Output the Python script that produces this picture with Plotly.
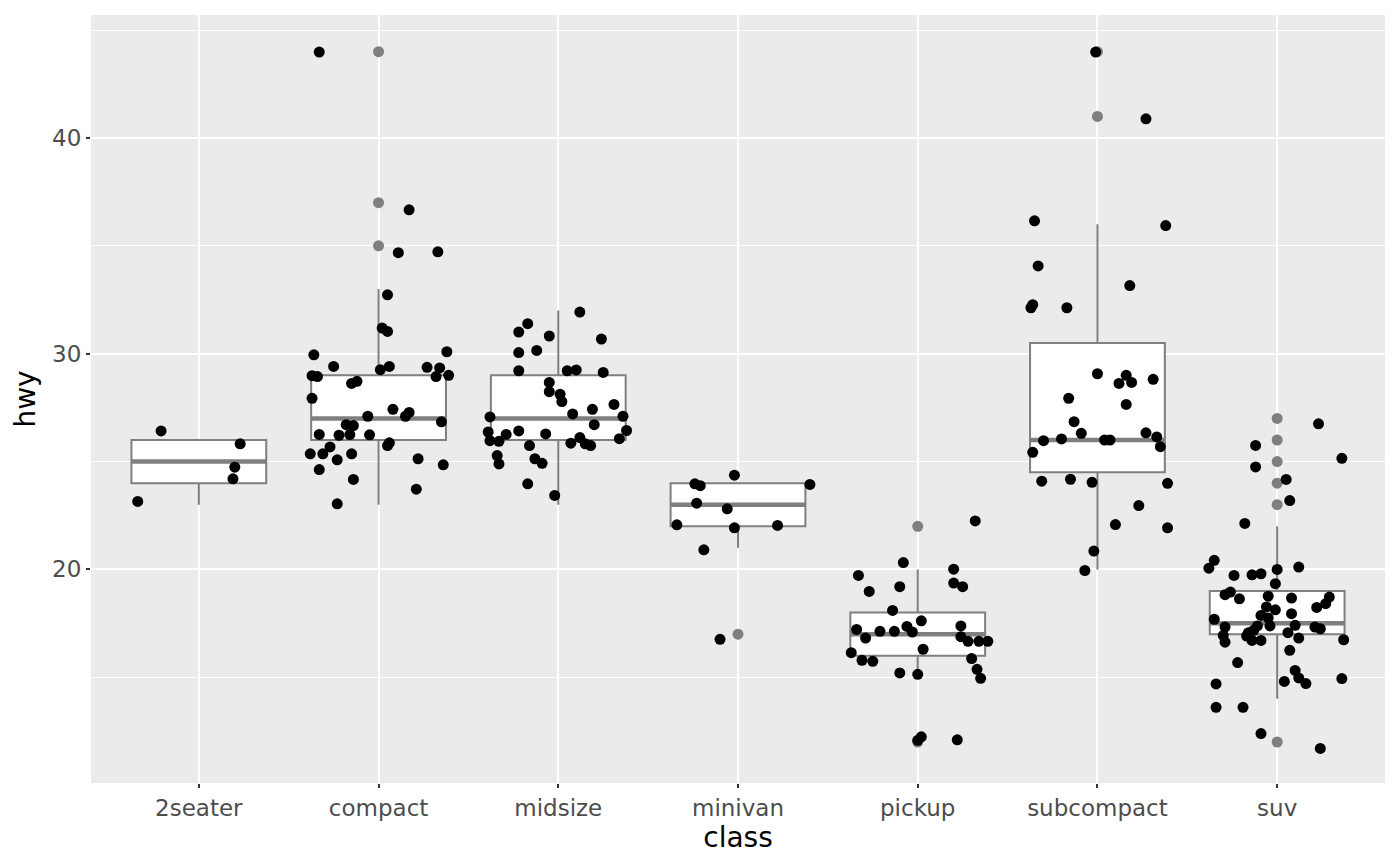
#!/usr/bin/env python3

"""
Highway mileage by vehicle class: boxplot with jittered points on top,
styled after ggplot2's grey theme.
"""

import numpy as np
import plotly.graph_objects as go

classes = ["2seater", "compact", "midsize", "minivan", "pickup", "subcompact", "suv"]

# box statistics per class
box_q1 = [24, 26, 26, 22, 16, 24.5, 17]
box_median = [25, 27, 27, 23, 17, 26, 17.5]
box_q3 = [26, 29, 29, 24, 18, 30.5, 19]
box_low = [23, 23, 23, 21, 15, 20, 14]
box_high = [26, 33, 32, 24, 20, 36, 22]

# boxplot outliers
outlier_class = ["compact", "compact", "compact", "minivan", "pickup", "pickup",
                 "subcompact", "subcompact", "suv", "suv", "suv", "suv", "suv", "suv"]
outlier_hwy = [44, 37, 35, 17, 12, 22, 44, 41, 27, 26, 25, 24, 23, 12]

# jittered points: horizontal offset from the class centre, and jittered hwy
twoseater_dx = [-0.21, 0.23, 0.20, 0.19, -0.34]
twoseater_hwy = [26.42, 25.82, 24.74, 24.20, 23.15]

compact_dx = [-0.33, 0.17, 0.11, 0.33, 0.05, 0.02, 0.05, -0.36, 0.38, -0.25,
              0.01, 0.06, 0.27, 0.34, 0.32, 0.39, -0.37, -0.34, -0.15, -0.12,
              -0.37, 0.08, 0.15, 0.17, -0.06, 0.35, -0.18, -0.14, -0.33, -0.22,
              -0.16, -0.05, 0.05, 0.06, -0.27, -0.31, -0.38, -0.15, -0.23, 0.22,
              0.36, -0.33, -0.14, 0.21, -0.23]
compact_hwy = [43.98, 36.67, 34.68, 34.72, 32.73, 31.19, 31.03, 29.95, 30.09, 29.41,
               29.26, 29.41, 29.37, 29.34, 28.94, 29.00, 28.98, 28.94, 28.62, 28.72,
               27.93, 27.42, 27.10, 27.28, 27.10, 26.84, 26.71, 26.67, 26.26, 26.22,
               26.25, 26.24, 25.74, 25.87, 25.68, 25.36, 25.36, 25.36, 25.08, 25.13,
               24.85, 24.63, 24.17, 23.72, 23.04]

midsize_dx = [0.12, -0.17, -0.22, -0.05, 0.24, -0.22, -0.12, -0.22, 0.05, 0.10,
              0.25, -0.05, -0.05, 0.01, 0.02, 0.31, 0.19, 0.08, -0.38, 0.36,
              0.20, 0.38, -0.39, -0.29, -0.22, -0.07, -0.38, -0.33, 0.12, 0.07,
              0.15, 0.18, 0.34, -0.16, -0.34, -0.33, -0.13, -0.09, -0.17, -0.02]
midsize_hwy = [31.93, 31.39, 31.00, 30.82, 30.68, 30.05, 30.15, 29.21, 29.21, 29.25,
               29.13, 28.67, 28.24, 28.12, 27.78, 27.65, 27.42, 27.21, 27.07, 27.10,
               26.71, 26.44, 26.37, 26.26, 26.42, 26.28, 25.97, 25.94, 26.11, 25.85,
               25.82, 25.74, 26.06, 25.74, 25.28, 24.89, 25.13, 24.92, 23.97, 23.43]

minivan_dx = [-0.02, -0.24, -0.21, 0.40, -0.23, -0.06, -0.34, -0.02, 0.22, -0.19, -0.10]
minivan_hwy = [24.37, 23.97, 23.88, 23.94, 23.07, 22.81, 22.07, 21.93, 22.04, 20.91, 16.76]

pickup_dx = [0.32, -0.08, 0.20, -0.33, -0.10, 0.20, 0.25, -0.27, -0.14, 0.02,
             -0.34, -0.21, -0.13, -0.06, -0.03, 0.24, -0.29, 0.24, 0.28, 0.34,
             0.39, 0.03, -0.37, -0.31, -0.25, 0.30, 0.33, 0.35, -0.10, 0.00,
             0.00, 0.02, 0.22]
pickup_hwy = [22.25, 20.32, 20.01, 19.72, 19.20, 19.37, 19.20, 18.98, 18.10, 17.62,
              17.22, 17.13, 17.13, 17.36, 17.10, 17.38, 16.82, 16.88, 16.67, 16.67,
              16.67, 16.30, 16.14, 15.79, 15.74, 15.87, 15.37, 14.95, 15.20, 15.14,
              12.08, 12.24, 12.10]

subcompact_dx = [-0.01, 0.27, -0.35, 0.38, -0.33, 0.18, -0.36, -0.37, -0.17, 0.00,
                 0.16, 0.12, 0.19, 0.31, -0.16, 0.16, -0.13, -0.09, -0.30, -0.20,
                 0.04, 0.07, 0.27, 0.33, 0.35, -0.36, -0.31, -0.15, -0.03, 0.39,
                 0.23, 0.10, 0.39, -0.02, -0.07]
subcompact_hwy = [43.98, 40.89, 36.16, 35.94, 34.07, 33.16, 32.27, 32.13, 32.13, 29.07,
                  29.00, 28.62, 28.67, 28.81, 27.93, 27.65, 26.85, 26.31, 25.97, 26.05,
                  26.00, 26.00, 26.33, 26.14, 25.69, 25.43, 24.09, 24.18, 24.04, 23.99,
                  22.96, 22.08, 21.93, 20.85, 19.95]

suv_dx = [0.23, -0.12, 0.36, -0.12, 0.05, 0.07, -0.18, -0.35, -0.38, -0.24,
          -0.14, -0.09, 0.00, 0.12, -0.01, -0.29, -0.26, -0.21, -0.05, 0.08,
          0.29, 0.27, 0.22, -0.06, -0.01, -0.09, 0.08, -0.35, -0.05, -0.04,
          0.10, 0.21, 0.24, -0.29, -0.11, -0.16, -0.13, 0.06, -0.30, -0.17,
          -0.14, -0.09, 0.12, 0.37, -0.29, 0.07, -0.22, 0.10, 0.12, 0.16,
          0.04, 0.36, -0.34, -0.34, -0.19, -0.09, 0.24]
suv_hwy = [26.75, 25.75, 25.15, 24.75, 24.17, 23.19, 22.13, 20.42, 20.06, 19.72,
           19.75, 19.80, 20.00, 20.11, 19.34, 18.83, 18.95, 18.64, 18.76, 18.67,
           18.72, 18.41, 18.24, 18.26, 18.13, 17.87, 17.95, 17.69, 17.75, 17.38,
           17.41, 17.33, 17.25, 17.33, 17.38, 17.07, 17.18, 17.07, 16.94, 16.91,
           16.71, 16.71, 16.82, 16.74, 16.63, 16.25, 15.68, 15.32, 14.97, 14.71,
           14.81, 14.94, 14.69, 13.61, 13.61, 12.39, 11.70]

BOX_COLOR = "#7F7F7F"
BOX_WIDTH = 0.75


def main() -> None:
    pos = {name: i for i, name in enumerate(classes)}

    jitter_sets = [
        ("2seater", twoseater_dx, twoseater_hwy),
        ("compact", compact_dx, compact_hwy),
        ("midsize", midsize_dx, midsize_hwy),
        ("minivan", minivan_dx, minivan_hwy),
        ("pickup", pickup_dx, pickup_hwy),
        ("subcompact", subcompact_dx, subcompact_hwy),
        ("suv", suv_dx, suv_hwy),
    ]
    jx = np.concatenate([pos[c] + np.array(dx) for c, dx, _ in jitter_sets])
    jy = np.concatenate([np.array(hwy) for _, _, hwy in jitter_sets])

    fig = go.Figure()

    fig.add_trace(
        go.Box(
            x=list(range(len(classes))),
            q1=box_q1,
            median=box_median,
            q3=box_q3,
            lowerfence=box_low,
            upperfence=box_high,
            width=BOX_WIDTH,
            whiskerwidth=0,
            fillcolor="white",
            line=dict(color=BOX_COLOR, width=2),
            boxpoints=False,
            hoverinfo="skip",
        )
    )

    # thicker median bar, as ggplot draws it
    mx, my = [], []
    for i, m in enumerate(box_median):
        mx += [i - BOX_WIDTH / 2, i + BOX_WIDTH / 2, None]
        my += [m, m, None]
    fig.add_trace(
        go.Scatter(x=mx, y=my, mode="lines",
                   line=dict(color=BOX_COLOR, width=4.5), hoverinfo="skip")
    )

    fig.add_trace(
        go.Scatter(
            x=[pos[c] for c in outlier_class],
            y=outlier_hwy,
            mode="markers",
            marker=dict(color=BOX_COLOR, size=11, line=dict(width=0)),
        )
    )

    fig.add_trace(
        go.Scatter(
            x=jx,
            y=jy,
            mode="markers",
            marker=dict(color="black", size=11, line=dict(width=0)),
        )
    )

    axis_common = dict(
        showgrid=True,
        gridcolor="white",
        gridwidth=2.2,
        zeroline=False,
        showline=False,
        ticks="outside",
        ticklen=4,
        tickwidth=2,
        tickcolor="#333333",
        tickfont=dict(size=23, color="#4D4D4D"),
        automargin=False,
    )

    # the page body adds an 8px margin, so the figure is a little smaller
    fig.update_layout(
        width=1384,
        height=850,
        margin=dict(l=83, r=7, t=7, b=75),
        plot_bgcolor="#EBEBEB",
        paper_bgcolor="white",
        showlegend=False,
        font=dict(family="DejaVu Sans", color="black"),
        xaxis=dict(
            range=[-0.6, 6.6],
            tickmode="array",
            tickvals=list(range(len(classes))),
            ticktext=classes,
            title=dict(text="class", font=dict(size=28, color="black"), standoff=4),
            **axis_common,
        ),
        yaxis=dict(
            range=[10.1, 45.7],
            tickmode="array",
            tickvals=[20, 30, 40],
            minor=dict(tickvals=[15, 25, 35, 45], showgrid=True,
                       gridcolor="white", gridwidth=1.1, ticks=""),
            title=dict(text="hwy", font=dict(size=28, color="black"), standoff=8),
            **axis_common,
        ),
    )

    fig.write_html("out.html")


if __name__ == "__main__":
    main()
